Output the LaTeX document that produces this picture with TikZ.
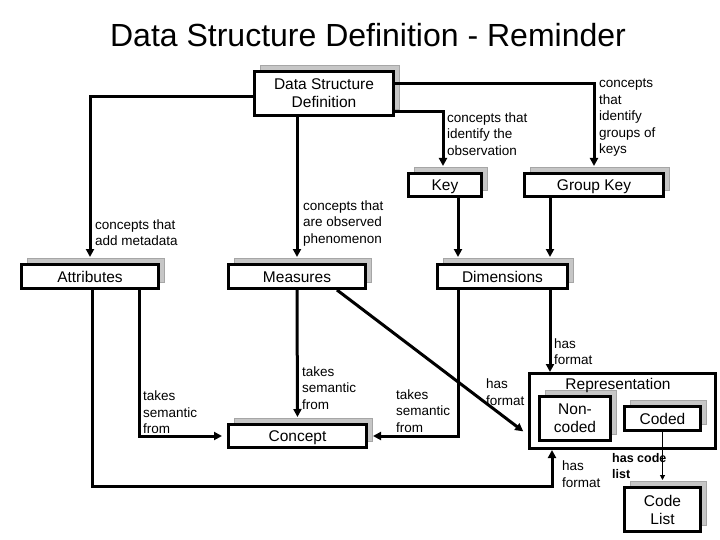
\documentclass[tikz,border=0pt]{standalone}
\usepackage{fontspec}
\setmainfont{Liberation Sans}
\usetikzlibrary{arrows.meta,shadows}

\begin{document}
\begin{tikzpicture}[x=1pt, y=-1pt, >={Triangle[length=8pt,width=8pt]},
  box/.style={draw, line width=3pt, fill=white, inner sep=0pt, align=center,
    font=\fontsize{15.5}{18}\selectfont,
    copy shadow={shadow xshift=6pt, shadow yshift=6pt, fill=gray!45, draw=gray!70, line width=1.5pt}},
  one/.style={text height=13pt, text depth=2pt},
  frame/.style={draw, line width=3pt, inner sep=0pt},
  conn/.style={->, line width=3pt},
  sh/.style={shorten >=6pt},
  lbl/.style={anchor=west, inner sep=0pt, align=left, font=\fontsize{13.5}{16.5}\selectfont},
  codelbl/.style={anchor=west, inner sep=0pt, align=left, font=\fontsize{12.5}{16}\selectfont\bfseries}]
  \useasboundingbox (0,0) rectangle (720,540);

  \node[font=\fontsize{32}{36}\selectfont] (title) at (368,35) {Data Structure Definition - Reminder};

  \node[box, minimum width=139pt, minimum height=44pt] (dsd) at (324,93.5) {Data Structure\\Definition};
  \node[box, one, minimum width=73pt, minimum height=23pt] (key) at (445,185) {Key};
  \node[box, one, minimum width=139pt, minimum height=23pt] (gkey) at (594,185) {Group Key};
  \node[box, one, minimum width=137pt, minimum height=24pt] (attr) at (90,276.5) {Attributes};
  \node[box, one, minimum width=137pt, minimum height=24pt] (meas) at (297,276.5) {Measures};
  \node[box, one, minimum width=130pt, minimum height=24pt] (dim) at (502.5,276.5) {Dimensions};
  \node[box, one, minimum width=138pt, minimum height=23pt] (conc) at (297.5,436) {Concept};
  \node[frame, minimum width=186pt, minimum height=75pt] (rep) at (622.5,411) {};
  \node[box, minimum width=71pt, minimum height=44pt] (nonc) at (575,418.5) {Non-\\coded};
  \node[box, one, minimum width=76pt, minimum height=24pt] (coded) at (662.5,418.5) {Coded};
  \node[box, minimum width=76pt, minimum height=44pt] (clist) at (662.5,509.5) {Code\\List};
  \node[one, font=\fontsize{15.5}{18}\selectfont] (reptitle) at (618,384) {Representation};

  \coordinate (kx) at (458,0);
  \coordinate (gx) at (550,0);
  \coordinate (ax) at (139,0);
  \coordinate (bot) at (552,486);

  \draw[conn, sh] ([yshift=-3.5pt]dsd.west) -| (attr.north);
  \draw[conn, sh] (dsd.south -| meas.north) -- (meas.north);
  \draw[conn, sh] ([yshift=9.5pt]dsd.east) -| (gkey.north);
  \draw[conn, sh] ([yshift=-18.5pt]dsd.east) -| ([xshift=-2pt]key.north);
  \draw[conn, sh] (key.south -| kx) -- (dim.north -| kx);
  \draw[conn, sh] (gkey.south -| gx) -- (dim.north -| gx);
  \draw[conn, sh] (meas.south) -- (conc.north);
  \draw[conn, sh] ([xshift=40pt]meas.south) -- ([yshift=-24pt]rep.west);
  \draw[conn, shorten >=5pt] (attr.south -| ax) |- (conc.west);
  \draw[conn, shorten >=5pt] (dim.south -| kx) |- (conc.east);
  \draw[conn] (dim.south -| gx) -- (rep.north -| gx);
  \draw[conn] ([xshift=2pt]attr.south) |- (bot) -- (rep.south -| bot);
  \draw[-{Triangle[length=5pt,width=5pt]}, line width=1pt, shorten >=6pt] (coded.south) -- (clist.north);

  \node[lbl] (l1) at (95,232.5) {concepts that\\add metadata};
  \node[lbl] (l2) at (303,223.5) {concepts that\\are observed\\phenomenon};
  \node[lbl] (l3) at (447,134) {concepts that\\identify the\\observation};
  \node[lbl] (l4) at (599,118) {concepts\\that\\identify\\groups of\\keys};
  \node[lbl] (l5) at (143,412.5) {takes\\semantic\\from};
  \node[lbl] (l6) at (302,388) {takes\\semantic\\from};
  \node[lbl] (l7) at (396,411) {takes\\semantic\\from};
  \node[lbl] (l8) at (486,392) {has\\format};
  \node[lbl] (l9) at (554,351.5) {has\\format};
  \node[lbl] (l10) at (562,474) {has\\format};
  \node[codelbl] (l11) at (612,466) {has code\\list};
\end{tikzpicture}
\end{document}
